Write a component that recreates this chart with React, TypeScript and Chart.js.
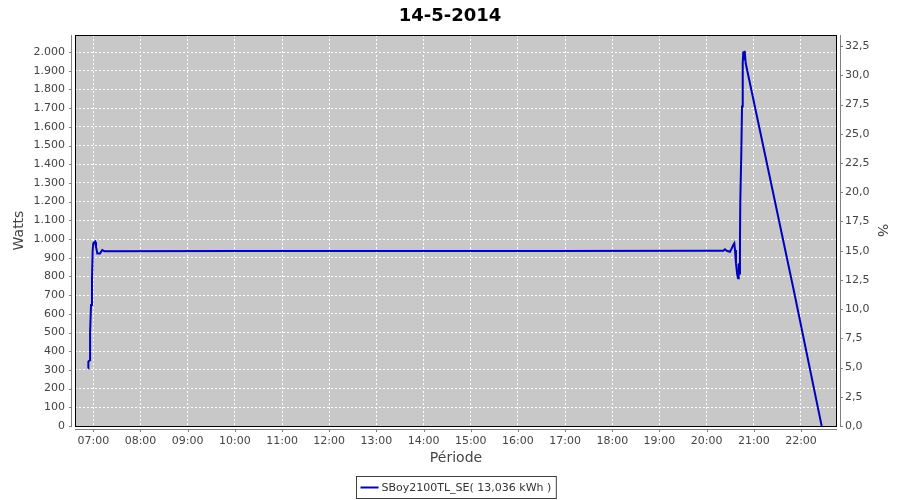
import React, { useEffect, useRef } from "react";
import { Chart, registerables } from "chart.js";

Chart.register(...registerables);

const chartTitle = "14-5-2014";
const seriesLabel = "SBoy2100TL_SE( 13,036 kWh )";
const yLeftTitle = "Watts";
const yRightTitle = "%";
const xTitle = "Période";

// sample times, minutes after midnight
const times = [
  413.6, 413.7, 415.8, 415.9, 417.1, 418.3, 419.2, 420.0, 422.2, 423.4, 425.1, 428.5, 431.4, 434.0,
  600, 800, 1000, 1200, 1221.2, 1223.3, 1225.5, 1229.7, 1231.9, 1233.9, 1235.2, 1236.1, 1237.3,
  1239.0, 1239.9, 1240.8, 1241.5, 1242.4, 1242.8, 1244.1, 1245.0, 1245.9, 1246.6, 1247.5, 1248.4,
  1249.7, 1310.2, 1346.3,
];
// power in watts
const watts = [
  308, 344, 353, 504, 647, 781, 941, 977, 986, 959, 923, 923, 941, 935,
  936, 936, 936, 937, 937, 945, 937, 932, 950, 968, 977, 941, 870,
  807, 790, 870, 816, 986, 1199, 1458, 1708, 1940, 2002, 1957, 2007,
  1940, 738, 0,
];

const xTickLabels = [
  "07:00", "08:00", "09:00", "10:00", "11:00", "12:00", "13:00", "14:00",
  "15:00", "16:00", "17:00", "18:00", "19:00", "20:00", "21:00", "22:00",
];
const wattsTicks = [
  0, 100, 200, 300, 400, 500, 600, 700, 800, 900, 1000,
  1100, 1200, 1300, 1400, 1500, 1600, 1700, 1800, 1900, 2000,
];
const pctTicks = [0, 2.5, 5, 7.5, 10, 12.5, 15, 17.5, 20, 22.5, 25, 27.5, 30, 32.5];

const xMin = 396.7;
const xMax = 1365.8;
const wattsMax = 2091;
const pctMax = 33.45;

const FONT = "'DejaVu Sans', sans-serif";
const LINE_COLOR = "#0000C0";

const toMinutes = (s: string) => {
  const [h, m] = s.split(":").map(Number);
  return h * 60 + m;
};
const fmtTime = (v: number) => {
  const h = Math.floor(v / 60);
  const m = Math.round(v - h * 60);
  return `${String(h).padStart(2, "0")}:${String(m).padStart(2, "0")}`;
};
const fmtWatts = (v: number) => {
  const n = Math.round(v);
  if (n >= 1000) return `${Math.floor(n / 1000)}.${String(n % 1000).padStart(3, "0")}`;
  return String(n);
};
const fmtPct = (v: number) => v.toFixed(1).replace(".", ",");

const decorPlugin = {
  id: "decor",
  beforeDraw(chart: any) {
    const { ctx, chartArea: a } = chart;
    ctx.save();
    ctx.fillStyle = "#C8C8C8";
    ctx.fillRect(a.left, a.top, a.right - a.left, a.bottom - a.top);
    ctx.restore();
  },
  afterDraw(chart: any) {
    const { ctx, chartArea: a } = chart;
    const sx = chart.scales.x;
    const sy = chart.scales.y;
    const sy1 = chart.scales.y1;
    ctx.save();
    // plot outline
    ctx.strokeStyle = "#000000";
    ctx.lineWidth = 1;
    ctx.strokeRect(a.left + 0.5, a.top + 0.5, a.right - a.left - 1, a.bottom - a.top);
    // axis lines
    ctx.strokeStyle = "#808080";
    ctx.beginPath();
    const lx = a.left - 3.5;
    const by = a.bottom + 3.5;
    const rx = a.right + 3.5;
    ctx.moveTo(lx, a.top);
    ctx.lineTo(lx, a.bottom + 1);
    ctx.moveTo(a.left, by);
    ctx.lineTo(a.right, by);
    ctx.moveTo(rx, a.top);
    ctx.lineTo(rx, a.bottom + 1);
    sy.ticks.forEach((t: any) => {
      const y = Math.round(sy.getPixelForValue(t.value)) + 0.5;
      ctx.moveTo(lx - 2.5, y);
      ctx.lineTo(lx, y);
    });
    sy1.ticks.forEach((t: any) => {
      const y = Math.round(sy1.getPixelForValue(t.value)) + 0.5;
      ctx.moveTo(rx, y);
      ctx.lineTo(rx + 2.5, y);
    });
    sx.ticks.forEach((t: any) => {
      const x = Math.round(sx.getPixelForValue(t.value)) + 0.5;
      ctx.moveTo(x, by);
      ctx.lineTo(x, by + 2.5);
    });
    ctx.stroke();

    // title
    ctx.fillStyle = "#000000";
    ctx.font = `bold 18px ${FONT}`;
    ctx.textAlign = "center";
    ctx.textBaseline = "middle";
    ctx.fillText(chartTitle, 450, 16);

    // legend
    const label = chart.data.datasets[0].label as string;
    ctx.font = `11px ${FONT}`;
    const tw = ctx.measureText(label).width;
    const boxW = 4 + 18 + 3 + tw + 5;
    const boxH = 22;
    const bx = Math.round((a.left + a.right) / 2 - boxW / 2) + 0.5;
    const byy = 476.5;
    ctx.strokeStyle = "#404040";
    ctx.lineWidth = 1;
    ctx.strokeRect(bx, byy, boxW, boxH);
    ctx.strokeStyle = LINE_COLOR;
    ctx.lineWidth = 2;
    ctx.beginPath();
    ctx.moveTo(bx + 4, byy + 11);
    ctx.lineTo(bx + 22, byy + 11);
    ctx.stroke();
    ctx.fillStyle = "#333333";
    ctx.textAlign = "left";
    ctx.fillText(label, bx + 25, byy + 11.5);
    ctx.restore();
  },
};

export default function App() {
  const ref = useRef<HTMLCanvasElement | null>(null);
  useEffect(() => {
    document.body.style.margin = "0";
    if (!ref.current) return;
    const hourTicks = xTickLabels.map(toMinutes);
    const chart = new Chart(ref.current, {
      type: "line",
      data: {
        datasets: [
          {
            label: seriesLabel,
            data: times.map((t, i) => ({ x: t, y: watts[i] })),
            borderColor: LINE_COLOR,
            backgroundColor: LINE_COLOR,
            borderWidth: 2,
            pointRadius: 0,
            tension: 0,
            fill: false,
            yAxisID: "y",
          },
        ],
      },
      options: {
        animation: false,
        responsive: false,
        devicePixelRatio: 1,
        events: [],
        layout: { padding: { top: 35, left: 0, right: 0, bottom: 0 } },
        plugins: {
          legend: { display: false },
          title: { display: false },
          tooltip: { enabled: false },
        },
        scales: {
          x: {
            type: "linear",
            min: xMin,
            max: xMax,
            afterBuildTicks: (scale: any) => {
              scale.ticks = hourTicks.map((v) => ({ value: v }));
            },
            afterFit: (scale: any) => {
              scale.height = 74;
            },
            ticks: {
              autoSkip: false,
              maxRotation: 0,
              padding: 9,
              color: "#444444",
              font: { family: FONT, size: 11 },
              callback: (v: any) => fmtTime(Number(v)),
            },
            grid: { color: "#FFFFFF", lineWidth: 1, drawTicks: false },
            border: { display: false, dash: [2, 2] },
            title: {
              display: true,
              text: xTitle,
              color: "#444444",
              font: { family: FONT, size: 14 },
              padding: { top: 0, bottom: 33 },
            },
          },
          y: {
            type: "linear",
            position: "left",
            min: 0,
            max: wattsMax,
            afterBuildTicks: (scale: any) => {
              scale.ticks = wattsTicks.map((v) => ({ value: v }));
            },
            afterFit: (scale: any) => {
              scale.width = 75;
            },
            ticks: {
              autoSkip: false,
              padding: 10,
              color: "#444444",
              font: { family: FONT, size: 11 },
              callback: (v: any) => fmtWatts(Number(v)),
            },
            grid: { color: "#FFFFFF", lineWidth: 1, drawTicks: false },
            border: { display: false, dash: [2, 2] },
            title: {
              display: true,
              text: yLeftTitle,
              color: "#444444",
              font: { family: FONT, size: 14 },
              padding: { top: 11, bottom: 0 },
            },
          },
          y1: {
            type: "linear",
            position: "right",
            min: 0,
            max: pctMax,
            afterBuildTicks: (scale: any) => {
              scale.ticks = pctTicks.map((v) => ({ value: v }));
            },
            afterFit: (scale: any) => {
              scale.width = 63;
            },
            ticks: {
              autoSkip: false,
              padding: 8,
              color: "#444444",
              font: { family: FONT, size: 11 },
              callback: (v: any) => fmtPct(Number(v)),
            },
            grid: { display: false, drawTicks: false },
            border: { display: false },
            title: {
              display: true,
              text: yRightTitle,
              color: "#444444",
              font: { family: FONT, size: 14 },
              padding: { top: 10, bottom: 0 },
            },
          },
        },
      },
      plugins: [decorPlugin],
    } as any);
    return () => chart.destroy();
  }, []);
  return (
    <div style={{ width: 900, height: 500, background: "#FFFFFF" }}>
      <canvas ref={ref} width={900} height={500} />
    </div>
  );
}
